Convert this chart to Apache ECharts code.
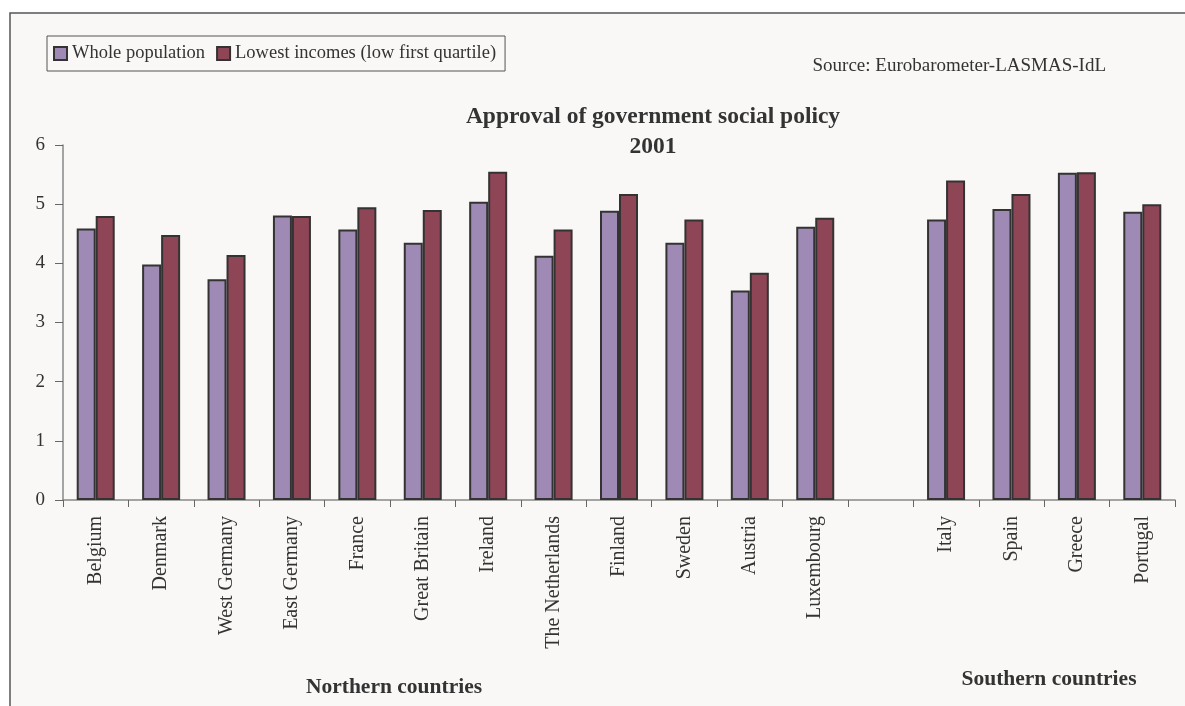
<!DOCTYPE html>
<html>
<head>
<meta charset="utf-8">
<script src="https://cdn.jsdelivr.net/npm/echarts@6/dist/echarts.min.js"></script>
<style>
html,body{margin:0;padding:0;background:#ffffff;}
#chart{width:1185px;height:706px;}
</style>
</head>
<body>
<div id="chart"></div>
<script>
const categories = ["Belgium","Denmark","West Germany","East Germany","France","Great Britain","Ireland","The Netherlands","Finland","Sweden","Austria","Luxembourg","","Italy","Spain","Greece","Portugal"];
const wholePopulation = [4.59,3.98,3.73,4.81,4.57,4.35,5.04,4.13,4.89,4.35,3.54,4.62,null,4.74,4.92,5.53,4.87];
const lowestIncomes = [4.80,4.48,4.14,4.80,4.95,4.90,5.55,4.57,5.17,4.74,3.84,4.77,null,5.40,5.17,5.54,5.00];
const yTicks = [0,1,2,3,4,5,6];
const seriesNames = ["Whole population","Lowest incomes (low first quartile)"];

const SERIF = "'Liberation Serif','Times New Roman',serif";
const chart = echarts.init(document.getElementById('chart'), null, {renderer:'canvas'});
chart.setOption({
  animation:false,
  backgroundColor:'#ffffff',
  graphic:[{
    type:'rect', z:-10, silent:true,
    shape:{x:10,y:13,width:1200,height:720},
    style:{fill:'#f9f8f6',stroke:'#555555',lineWidth:1.5}
  }],
  title:[
    {text:'Approval of government social policy\n2001', left:648, top:97, textAlign:'center',
     textStyle:{fontFamily:SERIF,fontWeight:'bold',fontSize:23.5,color:'#333333',lineHeight:30}},
    {text:'Source: Eurobarometer-LASMAS-IdL', left:1101, top:52, textAlign:'right',
     textStyle:{fontFamily:SERIF,fontWeight:'normal',fontSize:19,color:'#333333'}},
    {text:'Northern countries', left:389, top:671, textAlign:'center',
     textStyle:{fontFamily:SERIF,fontWeight:'bold',fontSize:21.5,color:'#333333'}},
    {text:'Southern countries', left:1044, top:663, textAlign:'center',
     textStyle:{fontFamily:SERIF,fontWeight:'bold',fontSize:21.5,color:'#333333'}}
  ],
  legend:{
    left:47, top:36, orient:'horizontal',
    padding:[8,9,8,6],
    itemWidth:13, itemHeight:13, itemGap:11,
    borderColor:'#555555', borderWidth:1,
    backgroundColor:'#f9f8f6',
    icon:'rect',
    textStyle:{fontFamily:SERIF,fontSize:18.5,color:'#333333'},
    data:seriesNames
  },
  grid:{left:63,right:10,top:145,bottom:206,containLabel:false},
  xAxis:{
    type:'category', data:categories,
    axisLine:{lineStyle:{color:'#888888',width:1.5}},
    axisTick:{show:true,interval:0,length:7,lineStyle:{color:'#666666'}},
    axisLabel:{interval:0,rotate:90,margin:16,fontFamily:SERIF,fontSize:20,color:'#333333'}
  },
  yAxis:{
    type:'value', min:yTicks[0], max:yTicks[yTicks.length-1], interval:1,
    axisLine:{show:true,lineStyle:{color:'#888888',width:1.5}},
    axisTick:{show:true,length:8,lineStyle:{color:'#666666'}},
    splitLine:{show:false},
    axisLabel:{margin:18,fontFamily:SERIF,fontSize:19,color:'#333333'}
  },
  series:[
    {name:seriesNames[0], type:'bar', data:wholePopulation, barWidth:19, barGap:'0%',
     itemStyle:{color:'#9e8ab4',borderColor:'#333333',borderWidth:2}},
    {name:seriesNames[1], type:'bar', data:lowestIncomes, barWidth:19, barGap:'0%',
     itemStyle:{color:'#8e4555',borderColor:'#333333',borderWidth:2}}
  ]
});
</script>
</body>
</html>
